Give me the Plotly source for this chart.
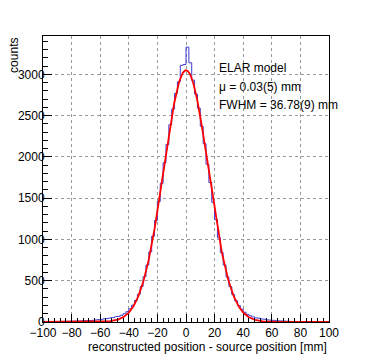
import numpy as np
import plotly.graph_objects as go

# Histogram (2 mm bins from -100 to 100), counts per bin
bin_edges = list(range(-100, 101, 2))
counts = [3, 2, 4, 3, 5, 4, 6, 5, 7, 8,
          9, 8, 11, 12, 14, 16, 18, 21, 24, 28,
          33, 38, 42, 48, 55, 62, 70, 82, 100, 125,
          160, 205, 262, 335, 430, 548, 690, 850, 1040, 1230,
          1460, 1680, 1930, 2150, 2390, 2580, 2770, 2910, 3110, 3120,
          3330, 3140, 2930, 2760, 2590, 2370, 2160, 1910, 1690, 1450,
          1240, 1020, 840, 690, 545, 430, 332, 258, 200, 155,
          118, 92, 75, 62, 52, 44, 38, 32, 27, 23,
          19, 16, 13, 11, 10, 8, 7, 6, 5, 5,
          4, 4, 3, 3, 2, 2, 2, 1, 1, 1]

# Gaussian fit parameters
fit_amp = 3050.0
fit_mu = 0.03
fit_fwhm = 36.78
fit_sigma = fit_fwhm / (2 * np.sqrt(2 * np.log(2)))

legend_lines = ["ELAR model", "\u03bc = 0.03(5) mm", "FWHM = 36.78(9) mm"]
x_title = "reconstructed position - source position [mm]"
y_title = "counts"

# step coordinates
sx = []
sy = []
for i, c in enumerate(counts):
    sx += [bin_edges[i], bin_edges[i + 1]]
    sy += [c, c]

fx = np.linspace(-100, 100, 801)
fy = fit_amp * np.exp(-0.5 * ((fx - fit_mu) / fit_sigma) ** 2)

fig = go.Figure()
fig.add_trace(go.Scatter(x=sx, y=sy, mode="lines",
                         line=dict(color="#3d3dd0", width=1), hoverinfo="skip"))
fig.add_trace(go.Scatter(x=fx, y=fy, mode="lines",
                         line=dict(color="#ff0000", width=1.8), hoverinfo="skip"))

font = dict(family="Liberation Sans, Arial, Helvetica, sans-serif", size=12, color="#000000")

# the page body has an 8px margin, so the figure is sized to fit the window
fig.update_layout(
    width=358, height=351,
    margin=dict(l=35, r=37, t=28, b=37),
    paper_bgcolor="white", plot_bgcolor="white",
    showlegend=False,
    font=font,
    xaxis=dict(range=[-100, 100], tick0=-100, dtick=20, ticks="inside", ticklen=8,
               tickcolor="#000", showgrid=True, gridcolor="#999999", griddash="dot",
               gridwidth=1, zeroline=False, showline=True, linecolor="#000", linewidth=1,
               mirror=True, tickfont=font, automargin=False,
               minor=dict(dtick=4, tick0=-100, ticks="inside", ticklen=4, tickcolor="#000", showgrid=False)),
    yaxis=dict(range=[0, 3465], tick0=0, dtick=500, ticks="inside", ticklen=9,
               tickcolor="#000", showgrid=True, gridcolor="#999999", griddash="dot",
               gridwidth=1, zeroline=False, showline=True, linecolor="#000", linewidth=1,
               mirror=True, tickfont=font, automargin=False, ticklabelstandoff=-5,
               minor=dict(dtick=100, ticks="inside", ticklen=5, tickcolor="#000", showgrid=False)),
)

fig.add_annotation(text=x_title, xref="paper", yref="paper", x=1.0, y=-0.055,
                   xanchor="right", yanchor="top", showarrow=False, font=font)
fig.add_annotation(text=y_title, xref="paper", yref="paper", x=-0.135, y=1.0,
                   xanchor="left", yanchor="top", textangle=-90, showarrow=False, font=font)
legend_y = [0.888, 0.822, 0.760]
for t, yy in zip(legend_lines, legend_y):
    fig.add_annotation(text=t, xref="paper", yref="paper", x=0.61, y=yy,
                       xanchor="left", yanchor="middle", showarrow=False, font=font)

fig.write_html("out.html")
